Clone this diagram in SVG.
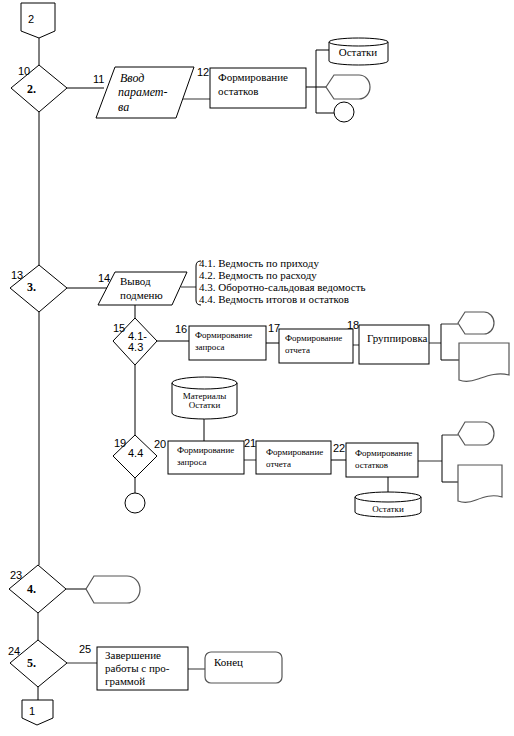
<svg xmlns="http://www.w3.org/2000/svg" width="514" height="736" viewBox="0 0 514 736">
<style>
.s{fill:#fff;stroke:#000;stroke-width:1}
.g{fill:#fff;stroke:#555;stroke-width:1.2}
.c{fill:none;stroke:#000;stroke-width:1}
.cg{fill:none;stroke:#777;stroke-width:1.5}
.n{font-family:"Liberation Sans",Arial,sans-serif;font-size:11px;fill:#000}
.t{font-family:"Liberation Serif","Times New Roman",serif;font-size:11px;fill:#000}
.ts{font-family:"Liberation Serif","Times New Roman",serif;font-size:9px;fill:#000}
.b{font-family:"Liberation Serif","Times New Roman",serif;font-size:12px;font-weight:bold;fill:#000}
.i{font-family:"Liberation Serif","Times New Roman",serif;font-size:12px;font-style:italic;fill:#000}
</style>
<rect width="514" height="736" fill="#fff"/>
<g id="connectors">
<path class="c" d="M39,38V65M39,112V265M39,312V565M38,613V640M38,687V700"/>
<path class="c" d="M67,88H104"/>
<path class="cg" d="M182,99H210"/>
<path class="c" d="M306,87H316M316,50V113M316,50H329M316,87H326M316,113H334"/>
<path class="c" d="M67,288H107"/>
<path class="cg" d="M181,287H196"/>
<path class="c" d="M135,305V318M135,365V435M135,478V493"/>
<path class="c" d="M157,341H189M266,343H279"/>
<path class="cg" d="M353,345H359M429,343H441M441,324H458"/>
<path class="c" d="M441,324V360H459"/>
<path class="c" d="M204,419V441"/>
<path class="cg" d="M244,460H256M418,461H442M442,435H458"/>
<path class="c" d="M331,460H346M388,477V492M442,435V482H458"/>
<path class="c" d="M66,589H86"/>
<path class="cg" d="M67,663H97M188,669H205"/>
</g>
<g id="offpage2"><polygon class="s" points="21,3 55,3 55,31 39,38 21,31"/><text class="n" x="28" y="23" font-size="12">2</text></g>
<g id="n10"><polygon class="s" points="39,65 67,88 39,112 11,88"/><text class="b" x="27" y="93">2.</text><text class="n" x="18" y="75">10</text></g>
<g id="n11"><polygon class="s" points="115,67 194,67 176,118 96,118"/><text class="n" x="93" y="83">11</text><text class="i" x="120" y="82">Ввод</text><text class="i" x="118" y="96">парамет-</text><text class="i" x="118" y="111">ва</text></g>
<g id="n12"><rect class="s" x="210" y="68" width="96" height="40"/><text class="n" x="197" y="76">12</text><text class="t" x="218" y="81">Формирование</text><text class="t" x="218" y="95">остатков</text></g>
<g id="ost1"><path class="s" d="M329,42A29.5,4 0 0,1 388,42V61A29.5,4 0 0,1 329,61Z"/><path class="c" d="M329,42A29.5,4 0 0,0 388,42"/><text class="t" x="358" y="56" text-anchor="middle">Остатки</text></g>
<g id="disp1"><path class="g" d="M326,87L334,75H359A11,12 0 0,1 359,99H334Z"/></g>
<g id="circ1"><circle class="s" cx="344" cy="112" r="10"/></g>
<g id="n13"><polygon class="s" points="39,265 67,288 39,312 10,288"/><text class="b" x="27" y="291">3.</text><text class="n" x="11" y="279">13</text></g>
<g id="n14"><polygon class="s" points="115,272 187,272 172,305 98,305"/><text class="n" x="98" y="282">14</text><text class="t" x="120" y="285">Вывод</text><text class="t" x="120" y="299">подменю</text></g>
<g id="submenu"><path class="c" d="M201,261Q196,261 196,266V300Q196,305 201,305"/>
<text class="t" x="199" y="267" font-size="10.5">4.1. Ведмость по приходу</text>
<text class="t" x="199" y="279" font-size="10.5">4.2. Ведмость по расходу</text>
<text class="t" x="199" y="291" font-size="10.5">4.3. Оборотно-сальдовая ведомость</text>
<text class="t" x="199" y="303" font-size="10.5">4.4. Ведмость итогов и остатков</text></g>
<g id="n15"><polygon class="s" points="135,318 157,341 135,365 113,341"/><text class="n" x="113" y="332">15</text><text class="n" x="128" y="340" font-size="10">4.1-</text><text class="n" x="128" y="351" font-size="10">4.3</text></g>
<g id="n16"><rect class="s" x="189" y="326" width="77" height="34"/><text class="n" x="175" y="333">16</text><text class="ts" x="195" y="338">Формирование</text><text class="ts" x="195" y="350">запроса</text></g>
<g id="n17"><rect class="s" x="279" y="329" width="74" height="34"/><text class="n" x="268" y="332">17</text><text class="ts" x="285" y="341">Формирование</text><text class="ts" x="285" y="353">отчета</text></g>
<g id="n18"><rect class="s" x="359" y="325" width="70" height="39"/><text class="n" x="347" y="329">18</text><text class="t" x="367" y="342" font-size="9.5">Группировка</text></g>
<g id="disp2"><path class="g" d="M458,323L465,312H484A10,11 0 0,1 484,334H465Z"/></g>
<g id="doc1"><path class="g" d="M459,343H509V375C497,372 487,376 478,379C470,382 464,382 459,380Z"/></g>
<g id="n19"><polygon class="s" points="135,435 157,456 135,478 113,456"/><text class="n" x="114" y="447">19</text><text class="n" x="128" y="457" font-size="10">4.4</text></g>
<g id="circ2"><circle class="s" cx="135" cy="503" r="10"/></g>
<g id="matost"><path class="s" d="M172,383A32.5,6 0 0,1 237,383V413A32.5,6 0 0,1 172,413Z"/><path class="c" d="M172,383A32.5,6 0 0,0 237,383"/><text class="ts" x="204.5" y="399" text-anchor="middle">Материалы</text><text class="ts" x="204.5" y="408" text-anchor="middle">Остатки</text></g>
<g id="n20"><rect class="s" x="168" y="441" width="76" height="33"/><text class="n" x="154" y="448">20</text><text class="ts" x="177" y="453">Формирование</text><text class="ts" x="177" y="465">запроса</text></g>
<g id="n21"><rect class="s" x="256" y="441" width="75" height="33"/><text class="n" x="244" y="447">21</text><text class="ts" x="266" y="455">Формирование</text><text class="ts" x="266" y="467">отчета</text></g>
<g id="n22"><rect class="s" x="346" y="443" width="72" height="34"/><text class="n" x="333" y="452">22</text><text class="ts" x="355" y="456">Формирование</text><text class="ts" x="355" y="468">остатков</text></g>
<g id="ost2"><path class="s" d="M355,497A33,5 0 0,1 421,497V512A33,5 0 0,1 355,512Z"/><path class="c" d="M355,497A33,5 0 0,0 421,497"/><text class="ts" x="388" y="512" text-anchor="middle">Остатки</text></g>
<g id="disp3"><path class="g" d="M458,434L465,422H484A10,11.5 0 0,1 484,445H465Z"/></g>
<g id="doc2"><path class="g" d="M458,465H502V497C492,494 484,497 476,500C469,503 463,503 458,501Z"/></g>
<g id="n23"><polygon class="s" points="38,565 66,589 38,613 9,589"/><text class="b" x="27" y="593">4.</text><text class="n" x="10" y="579">23</text></g>
<g id="disp4"><path class="g" d="M86,589L94,576H127A13,13.5 0 0,1 127,603H94Z"/></g>
<g id="n24"><polygon class="s" points="38,640 67,663 38,687 10,663"/><text class="b" x="27" y="667">5.</text><text class="n" x="8" y="655">24</text></g>
<g id="n25"><rect class="s" x="97" y="647" width="91" height="43"/><text class="n" x="79" y="653">25</text><text class="t" x="105" y="659">Завершение</text><text class="t" x="105" y="672">работы с про-</text><text class="t" x="105" y="685">граммой</text></g>
<g id="end"><rect class="g" x="205" y="652" width="77" height="31" rx="6"/><text class="t" x="214" y="666" font-size="12">Конец</text></g>
<g id="offpage1"><polygon class="s" points="22,700 53,700 53,718 37,725 22,718"/><text class="n" x="29" y="715" font-size="12">1</text></g>
</svg>
